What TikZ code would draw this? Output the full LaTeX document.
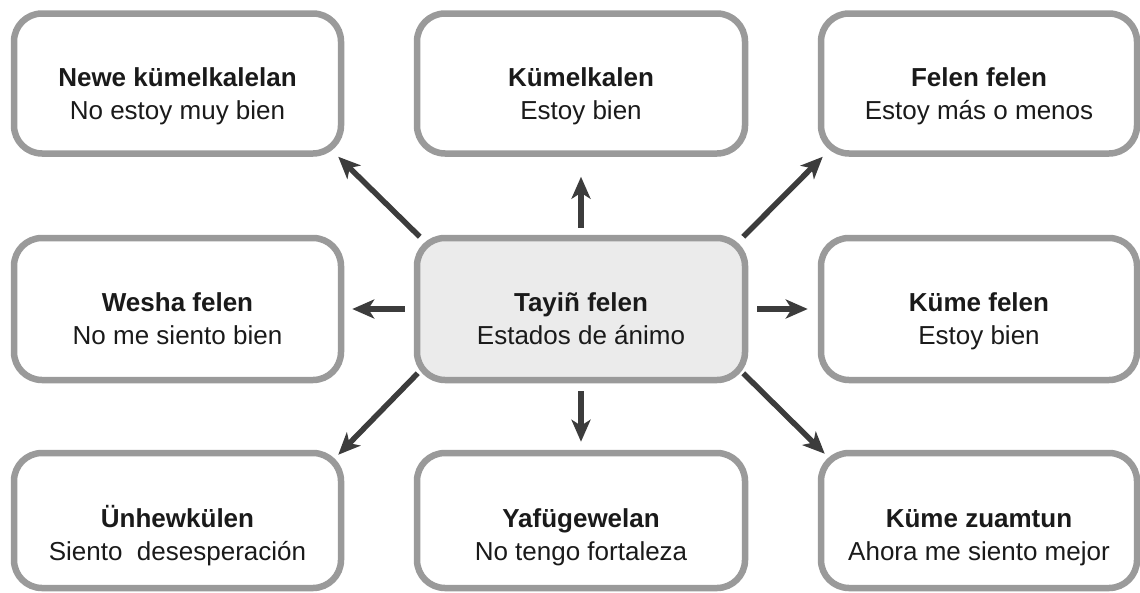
\documentclass[tikz,border=0pt]{standalone}
\usepackage{fontspec}
\setmainfont{Liberation Sans}
\usetikzlibrary{arrows.meta}
\definecolor{bord}{HTML}{9A9A9A}
\definecolor{cfill}{HTML}{EBEBEB}
\definecolor{arrc}{HTML}{3C3C3C}
\definecolor{txt}{HTML}{1A1A1A}
\newcommand\bx[3][45pt]{\rule{0pt}{#1}\textbf{#2}\\#3\rule[-7pt]{0pt}{7pt}}
\begin{document}
\begin{tikzpicture}[x=1pt,y=-1pt,
  box/.style={draw=bord, line width=6.5pt, rounded corners=28pt, fill=white,
    align=center, inner sep=0pt, text=txt,
    font=\fontsize{26}{33}\selectfont},
  arr/.style={draw=arrc, line width=5.5pt,
    -{Stealth[length=22pt,width=19pt,inset=6pt]}}]
\useasboundingbox (0,0) rectangle (1140,592);
% top row
\node[box, minimum width=327pt, minimum height=140pt] (nw) at (177.5,83.5) {\bx{Newe kümelkalelan}{No estoy muy bien}};
\node[box, minimum width=328pt, minimum height=140pt] (n) at (581,83.5) {\bx{Kümelkalen}{Estoy bien}};
\node[box, minimum width=316pt, minimum height=140pt] (ne) at (979,83.5) {\bx{Felen felen}{Estoy más o menos}};
% middle row
\node[box, minimum width=327pt, minimum height=142pt] (w) at (177.5,309) {\bx{Wesha felen}{No me siento bien}};
\node[box, fill=cfill, minimum width=328pt, minimum height=142pt] (c) at (581,309) {\bx{Tayiñ felen}{Estados de ánimo}};
\node[box, minimum width=316pt, minimum height=142pt] (e) at (979,309) {\bx{Küme felen}{Estoy bien}};
% bottom row
\node[box, minimum width=327pt, minimum height=135pt] (sw) at (177.5,520.5) {\bx[53pt]{Ünhewkülen}{Siento~ desesperación}};
\node[box, minimum width=328pt, minimum height=135pt] (s) at (581,520.5) {\bx[53pt]{Yafügewelan}{No tengo fortaleza}};
\node[box, minimum width=316pt, minimum height=135pt] (se) at (979,520.5) {\bx[53pt]{Küme zuamtun}{Ahora me siento mejor}};
% arrows
\draw[arr] ([xshift=6pt,yshift=-2pt]c.north west) -- ([xshift=-6pt]nw.south east);
\draw[arr] ([yshift=7pt]c.north) -- ([yshift=-20pt]n.south);
\draw[arr] ([xshift=-5pt,yshift=-2pt]c.north east) -- ([xshift=5pt]ne.south west);
\draw[arr] ([xshift=-9pt]c.west) -- ([xshift=8pt]w.east);
\draw[arr] ([xshift=9pt]c.east) -- ([xshift=-10pt]e.west);
\draw[arr] ([xshift=4pt,yshift=10pt]c.south west) -- ([xshift=-6pt,yshift=-5pt]sw.north east);
\draw[arr] ([yshift=-8pt]c.south) -- ([yshift=8pt]s.north);
\draw[arr] ([xshift=-5pt,yshift=10pt]c.south east) -- ([xshift=7pt,yshift=-4pt]se.north west);
\end{tikzpicture}
\end{document}
